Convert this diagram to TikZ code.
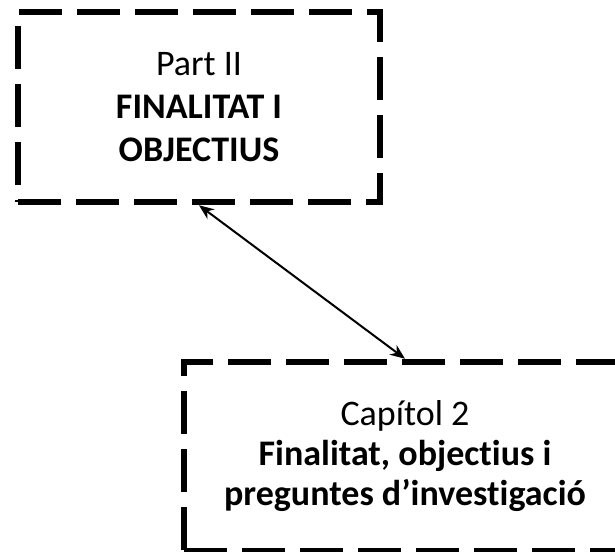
\documentclass[tikz,border=0pt]{standalone}
\usepackage{fontspec}
\setmainfont{Carlito}[Ligatures={NoCommon}]
\usetikzlibrary{arrows.meta}
\begin{document}
\begin{tikzpicture}[x=1pt,y=-1pt,
  dbox/.style={draw=black, line width=6.5pt, dash pattern=on 43pt off 15pt,
    rectangle, inner sep=0pt, align=center, text=black},
  conn/.style={line width=2pt, {Stealth[length=15pt,width=12pt]}-{Stealth[length=15pt,width=12pt]}}]
\useasboundingbox (0,0) rectangle (615,551);
\clip (0,0) rectangle (615,551);
\node[dbox, minimum width=362pt, minimum height=190pt,
  font=\fontsize{36}{43}\selectfont] (top) at (199,107)
  {Part II\\\textbf{FINALITAT I}\\\textbf{OBJECTIUS}};
\node[dbox, minimum width=442pt, minimum height=189pt,
  font=\fontsize{36}{40}\selectfont] (bot) at (405,456.5)
  {Capítol 2\\\textbf{Finalitat, objectius i}\\\textbf{preguntes d’investigació}};
\draw[conn] (top.south) -- (bot.north);
\end{tikzpicture}
\end{document}
